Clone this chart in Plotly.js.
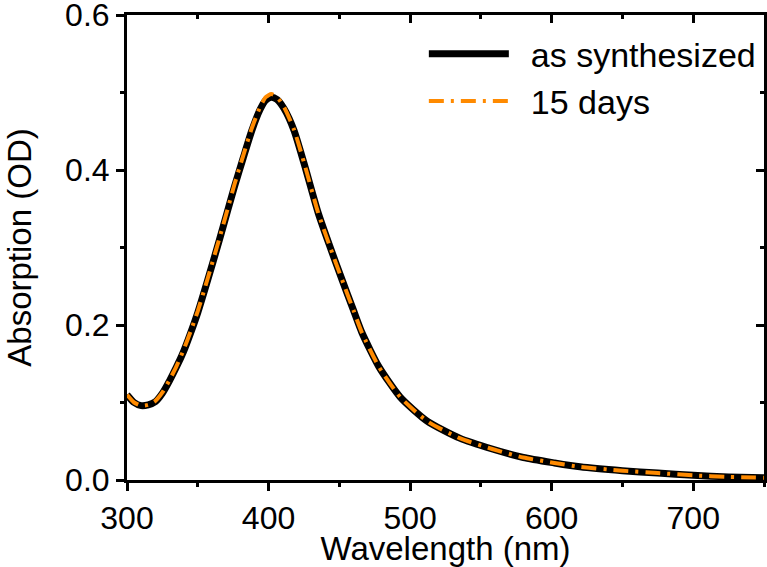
<!DOCTYPE html>
<html>
<head>
<meta charset="utf-8">
<script src="https://cdn.plot.ly/plotly-3.0.1.min.js"></script>
<style>
  html, body { margin: 0; padding: 0; background: #fff; }
  #chart { width: 767px; height: 567px; }
</style>
</head>
<body>
<div id="chart"></div>
<script>
// wavelength grid (nm)
const wavelength = [300, 305, 310, 315, 320, 325, 330, 335, 340, 345, 350, 357, 365, 371, 376, 382, 388, 394, 398, 402,
                    406, 411, 418, 425, 435, 443, 452, 460, 466, 478, 493, 512, 535, 558, 580, 602, 620, 650, 675, 700, 725, 750];

// absorption (OD)
const asSynthesized = [0.110, 0.100, 0.096, 0.097, 0.101, 0.112, 0.128, 0.146, 0.166, 0.190, 0.216, 0.258, 0.308, 0.347, 0.379, 0.415, 0.450, 0.478, 0.490, 0.494,
                       0.491, 0.479, 0.451, 0.409, 0.345, 0.303, 0.258, 0.219, 0.190, 0.146, 0.107, 0.076, 0.054, 0.040, 0.029, 0.022, 0.017, 0.012, 0.009, 0.006, 0.004, 0.003];
const days15 = [0.110, 0.100, 0.096, 0.097, 0.102, 0.113, 0.129, 0.147, 0.168, 0.192, 0.218, 0.260, 0.310, 0.349, 0.382, 0.418, 0.453, 0.481, 0.494, 0.498,
                0.494, 0.481, 0.452, 0.410, 0.345, 0.303, 0.258, 0.219, 0.190, 0.146, 0.107, 0.076, 0.054, 0.040, 0.029, 0.022, 0.017, 0.012, 0.009, 0.006, 0.004, 0.003];

const seriesNames = ["as synthesized", "15 days"];

const fam = "Liberation Sans, Arial, sans-serif";
const font = { family: fam, size: 34, color: "#000" };
const tickFont = { family: fam, size: 32, color: "#000" };

const traces = [
    {
        x: wavelength, y: asSynthesized, name: "\u2002" + seriesNames[0],
        type: "scatter", mode: "lines",
        line: { color: "#000000", width: 7, shape: "spline", smoothing: 0.6 },
        xaxis: "x", yaxis: "y"
    },
    {
        x: wavelength, y: days15, name: "\u2002" + seriesNames[1],
        type: "scatter", mode: "lines",
        line: { color: "#ff8a00", width: 4, dash: "15px,7px,3px,7px", shape: "spline", smoothing: 0.6 },
        xaxis: "x2", yaxis: "y2"
    }
];

const axisBase = {
    showgrid: false, zeroline: false,
    showline: true, linecolor: "#000", linewidth: 3,
    tickcolor: "#000", tickwidth: 3, ticklen: 8,
    ticklabeloverflow: "allow"
};

const layout = {
    width: 767, height: 567,
    margin: { l: 127, r: 3, t: 15, b: 87 },
    paper_bgcolor: "#fff", plot_bgcolor: "#fff",
    font: font,
    showlegend: true,
    legend: {
        x: 0.466, y: 0.978, xanchor: "left", yanchor: "top",
        bgcolor: "rgba(0,0,0,0)", borderwidth: 0,
        font: font,
        itemwidth: 80, tracegroupgap: 0
    },
    xaxis: Object.assign({}, axisBase, {
        range: [300, 750], dtick: 100, tick0: 300,
        ticks: "outside",
        minor: { dtick: 50, ticks: "outside", ticklen: 4, tickwidth: 3, tickcolor: "#000" },
        tickfont: tickFont,
        title: { text: "Wavelength (nm)", font: { family: fam, size: 33, color: "#000" }, standoff: 3 }
    }),
    yaxis: Object.assign({}, axisBase, {
        range: [0, 0.6], dtick: 0.2, tick0: 0, tickformat: ".1f",
        ticks: "outside",
        minor: { dtick: 0.1, ticks: "outside", ticklen: 4, tickwidth: 3, tickcolor: "#000" },
        tickfont: tickFont,
        title: { text: "Absorption (OD)", font: { family: fam, size: 33, color: "#000" }, standoff: 24 }
    }),
    xaxis2: Object.assign({}, axisBase, {
        overlaying: "x", matches: "x", side: "top", anchor: "y2",
        range: [300, 750], dtick: 100, tick0: 300,
        ticks: "inside", showticklabels: false,
        minor: { dtick: 50, ticks: "inside", ticklen: 4, tickwidth: 3, tickcolor: "#000" }
    }),
    yaxis2: Object.assign({}, axisBase, {
        overlaying: "y", matches: "y", side: "right", anchor: "x2",
        range: [0, 0.6], dtick: 0.2, tick0: 0,
        ticks: "inside", showticklabels: false,
        minor: { dtick: 0.1, ticks: "inside", ticklen: 4, tickwidth: 3, tickcolor: "#000" }
    })
};

Plotly.newPlot("chart", traces, layout, { staticPlot: true, displayModeBar: false });
</script>
</body>
</html>
